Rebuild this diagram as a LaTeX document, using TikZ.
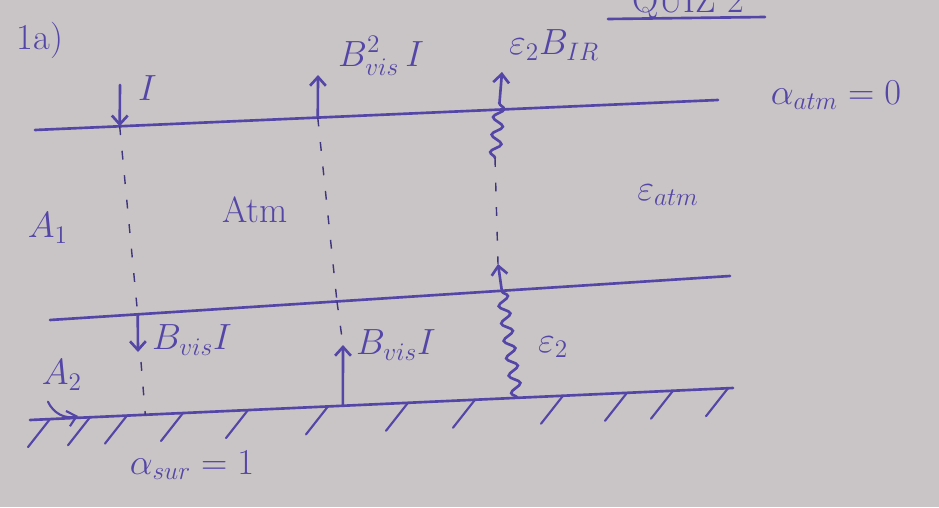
\documentclass[tikz,border=0pt]{standalone}
\usepackage{tikz}
\usetikzlibrary{arrows.meta,calc,decorations.pathmorphing}
\usepackage{amsmath}
\definecolor{paper}{HTML}{C9C4C5}
\definecolor{ink}{HTML}{5446A6}

\begin{document}
\begin{tikzpicture}[x=0.02cm,y=-0.02cm,
  pen/.style={ink,line width=1.5pt,line cap=round},
  flux/.style={pen,-{Straight Barb[length=5pt,width=9pt]}},
  wave/.style={flux,decorate,decoration={snake,amplitude=3pt,segment length=10pt,post length=14pt}},
  guide/.style={ink!75!black,line width=0.8pt,dash pattern=on 5pt off 9pt},
  lbl/.style={ink,font=\huge}]
  \fill[paper] (0,0) rectangle (939,507);
  \useasboundingbox (0,0) rectangle (939,507);

  % layer boundaries
  \coordinate (topL) at (35,130);  \coordinate (topR) at (718,100);
  \coordinate (midL) at (50,320);  \coordinate (midR) at (730,276);
  \coordinate (surL) at (30,420);  \coordinate (surR) at (733,388);
  \draw[pen] (topL) -- (topR);
  \draw[pen] (midL) -- (midR);
  \draw[pen] (surL) -- (surR);

  % ground hatching
  \foreach \hx in {50,90,127,183,248,328,408,475,563,627,673,728}
    \draw[pen,line width=1.2pt] ($(surL)!{(\hx-30)/703}!(surR)$) -- ++(-22,28);

  % crossings of the beams with the layers
  \coordinate (t1) at ($(topL)!0.124!(topR)$);
  \coordinate (t2) at ($(topL)!0.414!(topR)$);
  \coordinate (t3) at ($(topL)!0.676!(topR)$);
  \coordinate (m1) at ($(midL)!0.129!(midR)$);
  \coordinate (m2) at ($(midL)!0.422!(midR)$);
  \coordinate (s1) at ($(surL)!0.164!(surR)$);
  \coordinate (s2) at ($(surL)!0.445!(surR)$);
  \coordinate (s3) at ($(surL)!0.693!(surR)$);

  % incoming sunlight
  \coordinate (inTop) at (120,85);
  \draw[flux] (inTop) -- (t1);
  \node[lbl,anchor=west] (lblI) at (132,88) {$I$};
  \draw[guide] (t1) -- (m1);
  \coordinate (inDown) at (138,352);
  \draw[flux] (m1) -- (inDown);
  \node[lbl,anchor=west] (lblInDown) at (146,340) {$B_{vis}I$};
  \coordinate (inGap) at (141,362);
  \draw[guide] (inGap) -- (s1);

  % reflected sunlight
  \coordinate (outTop) at (318,75);
  \draw[flux] (t2) -- (outTop);
  \node[lbl,anchor=west] (lblOut) at (332,56) {$B_{vis}^{2}\,I$};
  \draw[guide] (t2) -- (m2);
  \coordinate (upTip) at (343,345);
  \draw[guide] (m2) -- (upTip);
  \draw[flux] (s2) -- (upTip);
  \node[lbl,anchor=west] (lblUp) at (350,345) {$B_{vis}I$};

  % infrared from the surface
  \coordinate (irLow) at (495,158);
  \coordinate (irTop) at (502,72);
  \draw[wave] (irLow) -- (irTop);
  \node[lbl,anchor=west] (lblIR) at (503,45) {$\varepsilon_2B_{IR}$};
  \coordinate (irMid) at (498,264);
  \draw[guide] (irLow) -- (irMid);
  \draw[wave] (s3) -- (irMid);
  \node[lbl,anchor=west] (lblE2) at (532,347) {$\varepsilon_2$};

  % labels
  \node[lbl] (part) at (40,40) {1a)};
  \node[lbl,anchor=base] (quiz) at (688,12) {QUIZ 2};
  \draw[pen] (608,19) -- (765,17);
  \node[lbl] (albAtm) at (836,95) {$\alpha_{atm}=0$};
  \node[lbl] (epsAtm) at (668,195) {$\varepsilon_{atm}$};
  \node[lbl] (atm) at (255,210) {Atm};
  \node[lbl] (A1) at (48,228) {$A_1$};
  \node[lbl] (A2) at (62,375) {$A_2$};
  \coordinate (A2tip) at (78,416);
  \draw[flux,line width=1.2pt] ([xshift=-8pt,yshift=-3pt]A2.south) to[bend right=40] (A2tip);
  \node[lbl] (albSur) at (192,465) {$\alpha_{sur}=1$};
\end{tikzpicture}
\end{document}
